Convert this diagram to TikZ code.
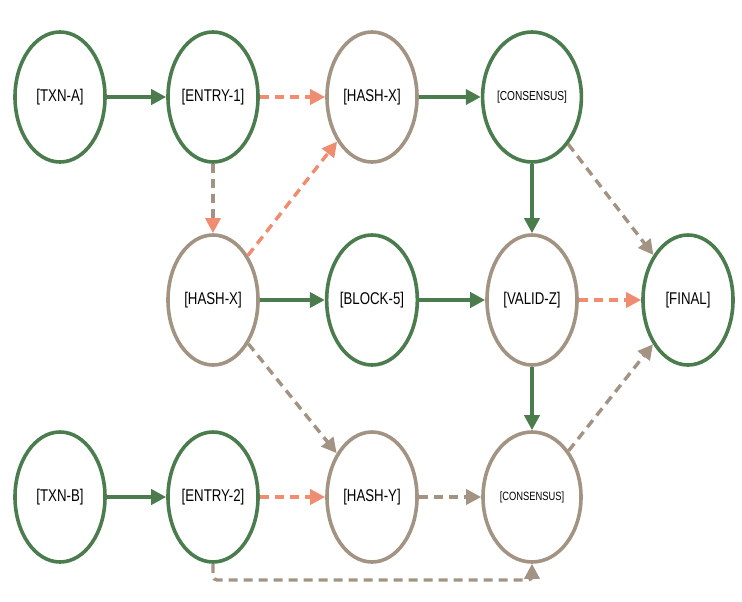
\documentclass[tikz,border=0pt]{standalone}
\usepackage{fontspec}
\setmainfont{Liberation Sans}[FakeStretch=0.78]
\usetikzlibrary{arrows.meta,shapes.geometric}
\definecolor{leaf}{HTML}{4A7C4E}
\definecolor{taupe}{HTML}{A39382}
\definecolor{salmon}{HTML}{F08C70}
\begin{document}
\begin{tikzpicture}[x=1pt,y=-1pt,
  green node/.style={ellipse, draw=leaf, line width=3.6pt, minimum width=90pt, minimum height=130pt, inner sep=0pt, font=\fontsize{17}{19}\selectfont},
  taupe node/.style={green node, draw=taupe},
  solid/.style={leaf, line width=3.8pt, -{Triangle[length=15pt,width=15pt]}},
  dashy/.style={taupe, line width=3.4pt, dash pattern=on 9pt off 6pt, -{Triangle[length=15pt,width=15pt]}},
  hot/.style={salmon, line width=3.4pt, dash pattern=on 9pt off 6pt, -{Triangle[length=15pt,width=15pt]}},
  mixed/.style={dashy, -{Triangle[length=15pt,width=15pt,color=salmon]}}]
\useasboundingbox (0,0) rectangle (742,602);
% Nodes
\node[green node] (txna) at (60,97) {[TXN-A]};
\node[green node] (e1) at (213,97) {[ENTRY-1]};
\node[taupe node] (hx1) at (372,97) {[HASH-X]};
\node[green node, minimum width=98pt] (c1) at (532,97) {\fontsize{13}{15}\selectfont[CONSENSUS]};
\node[taupe node] (hx2) at (213,300) {[HASH-X]};
\node[green node] (b5) at (372,300) {[BLOCK-5]};
\node[taupe node] (vz) at (532,300) {[VALID-Z]};
\node[green node] (fin) at (688,300) {[FINAL]};
\node[green node] (txnb) at (60,497) {[TXN-B]};
\node[green node] (e2) at (213,497) {[ENTRY-2]};
\node[taupe node] (hy) at (372,497) {[HASH-Y]};
\node[taupe node, minimum width=98pt] (c2) at (532,497) {\fontsize{12}{14}\selectfont[CONSENSUS]};
\coordinate (lowl) at (213,580);
\coordinate (lowr) at (532,580);
% Edges
\draw[solid] (txna) -- (e1);
\draw[hot] (e1) -- (hx1);
\draw[solid] (hx1) -- (c1);
\draw[mixed] (e1) -- (hx2);
\draw[hot] (hx2) -- (hx1);
\draw[solid] (c1) -- (vz);
\draw[dashy] (c1) -- (fin);
\draw[solid] (hx2) -- (b5);
\draw[solid] (b5) -- (vz);
\draw[hot] (vz) -- (fin);
\draw[solid] (vz) -- (c2);
\draw[dashy] (hx2) -- (hy);
\draw[solid] (txnb) -- (e2);
\draw[hot] (e2) -- (hy);
\draw[dashy] (hy) -- (c2);
\draw[dashy] (c2) -- (fin);
\draw[dashy, rounded corners=4pt] (e2.south) -- (lowl) -- (lowr) -- (c2.south);
\end{tikzpicture}
\end{document}
